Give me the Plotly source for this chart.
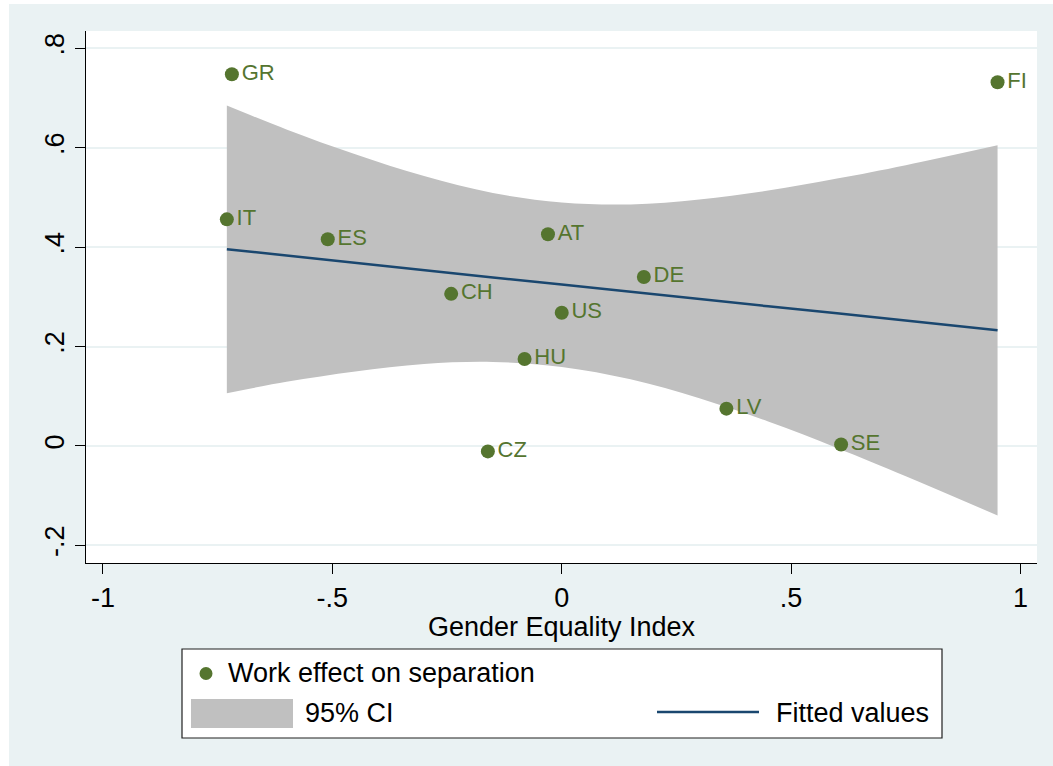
import plotly.graph_objects as go

# Country estimates: work effect on separation vs. gender equality index
countries = ["GR", "FI", "IT", "ES", "AT", "DE", "CH", "US", "HU", "LV", "SE", "CZ"]
gender_equality = [-0.719, 0.950, -0.730, -0.510, -0.030, 0.179, -0.241, 0.000, -0.081, 0.359, 0.609, -0.161]
work_effect = [0.748, 0.732, 0.456, 0.416, 0.426, 0.340, 0.306, 0.268, 0.175, 0.075, 0.003, -0.011]

# Linear fit with 95% confidence band
fit_x = [-0.73, -0.60, -0.45, -0.30, -0.15, 0.00, 0.15, 0.30, 0.45, 0.60, 0.75, 0.95]
fit_y = [0.396, 0.383, 0.368, 0.354, 0.339, 0.325, 0.310, 0.296, 0.281, 0.267, 0.252, 0.233]
ci_upper = [0.685, 0.637, 0.587, 0.543, 0.509, 0.490, 0.486, 0.496, 0.514, 0.538, 0.565, 0.605]
ci_lower = [0.106, 0.129, 0.150, 0.165, 0.169, 0.159, 0.134, 0.096, 0.049, -0.004, -0.061, -0.140]

x_ticks = [-1, -0.5, 0, 0.5, 1]
x_ticklabels = ["-1", "-.5", "0", ".5", "1"]
y_ticks = [-0.2, 0, 0.2, 0.4, 0.6, 0.8]
y_ticklabels = ["-.2", "0", ".2", ".4", ".6", ".8"]

FONT = "Liberation Sans, Arial, Helvetica, sans-serif"
GREEN = "#55752F"
NAVY = "#1A476F"
BAND = "#C0C0C0"
REGION = "#EAF2F3"
TXT = 27

W, H = 1053, 766
ML, MR, MT, MB = 86, 16, 31, 203
PW, PH = W - ML - MR, H - MT - MB


def px(x):
    return (x - ML) / PW


def py(y):
    return (H - MB - y) / PH


fig = go.Figure()

fig.add_trace(go.Scatter(
    x=fit_x, y=ci_lower, mode="lines", line=dict(width=0, shape="spline"),
    hoverinfo="skip", showlegend=False))
fig.add_trace(go.Scatter(
    x=fit_x, y=ci_upper, mode="lines", line=dict(width=0, shape="spline"),
    fill="tonexty", fillcolor=BAND, name="95% CI", showlegend=False))
fig.add_trace(go.Scatter(
    x=fit_x, y=fit_y, mode="lines", line=dict(color=NAVY, width=2.5),
    name="Fitted values", showlegend=False))
fig.add_trace(go.Scatter(
    x=gender_equality, y=work_effect, mode="markers+text", text=countries,
    textposition="middle right",
    textfont=dict(family=FONT, size=22, color=GREEN),
    marker=dict(color=GREEN, size=14, line=dict(width=0)),
    name="Work effect on separation", showlegend=False))

shapes = [
    # white page edge on the left and top
    dict(type="rect", xref="paper", yref="paper", x0=px(0), x1=px(9), y0=py(0), y1=py(H),
         fillcolor="white", line=dict(width=0), layer="below"),
    dict(type="rect", xref="paper", yref="paper", x0=px(0), x1=px(W), y0=py(0), y1=py(4),
         fillcolor="white", line=dict(width=0), layer="below"),
    # legend box
    dict(type="rect", xref="paper", yref="paper", x0=px(182), x1=px(942), y0=py(649), y1=py(738),
         fillcolor="white", line=dict(color="#202020", width=1.2)),
    dict(type="circle", xref="paper", yref="paper", x0=px(199.5), x1=px(212.5), y0=py(667), y1=py(680),
         fillcolor=GREEN, line=dict(width=0)),
    dict(type="rect", xref="paper", yref="paper", x0=px(191), x1=px(293), y0=py(699), y1=py(728),
         fillcolor=BAND, line=dict(width=0)),
    dict(type="line", xref="paper", yref="paper", x0=px(657), x1=px(759), y0=py(712), y1=py(712),
         line=dict(color=NAVY, width=2.5)),
]

annotations = [
    dict(text="Work effect on separation", x=px(226), y=py(673), xref="paper", yref="paper",
         xanchor="left", yanchor="middle", showarrow=False,
         font=dict(family=FONT, size=TXT, color="black")),
    dict(text="95% CI", x=px(303), y=py(713), xref="paper", yref="paper",
         xanchor="left", yanchor="middle", showarrow=False,
         font=dict(family=FONT, size=TXT, color="black")),
    dict(text="Fitted values", x=px(774), y=py(713), xref="paper", yref="paper",
         xanchor="left", yanchor="middle", showarrow=False,
         font=dict(family=FONT, size=TXT, color="black")),
]

fig.update_layout(
    width=W, height=H,
    margin=dict(l=ML, r=MR, t=MT, b=MB, pad=0),
    paper_bgcolor=REGION, plot_bgcolor="white",
    showlegend=False,
    font=dict(family=FONT, size=TXT, color="black"),
    shapes=shapes, annotations=annotations,
    xaxis=dict(
        range=[-1.037, 1.036], tickvals=x_ticks, ticktext=x_ticklabels,
        showgrid=False, zeroline=False, showline=True, linecolor="black", linewidth=1.2,
        ticks="outside", ticklen=10, tickwidth=1.2, tickcolor="black",
        tickfont=dict(family=FONT, size=TXT, color="black"),
        title=dict(text="Gender Equality Index", standoff=0,
                   font=dict(family=FONT, size=TXT, color="black")),
        automargin=False, mirror=False,
    ),
    yaxis=dict(
        range=[-0.2356, 0.835], tickvals=y_ticks, ticktext=y_ticklabels,
        showgrid=True, gridcolor=REGION, gridwidth=2,
        zeroline=False, showline=True, linecolor="black", linewidth=1.2,
        ticks="outside", ticklen=10, tickwidth=1.2, tickcolor="black",
        tickangle=-90,
        tickfont=dict(family=FONT, size=TXT, color="black"),
        automargin=False, mirror=False,
    ),
)

fig.write_html("out.html")
